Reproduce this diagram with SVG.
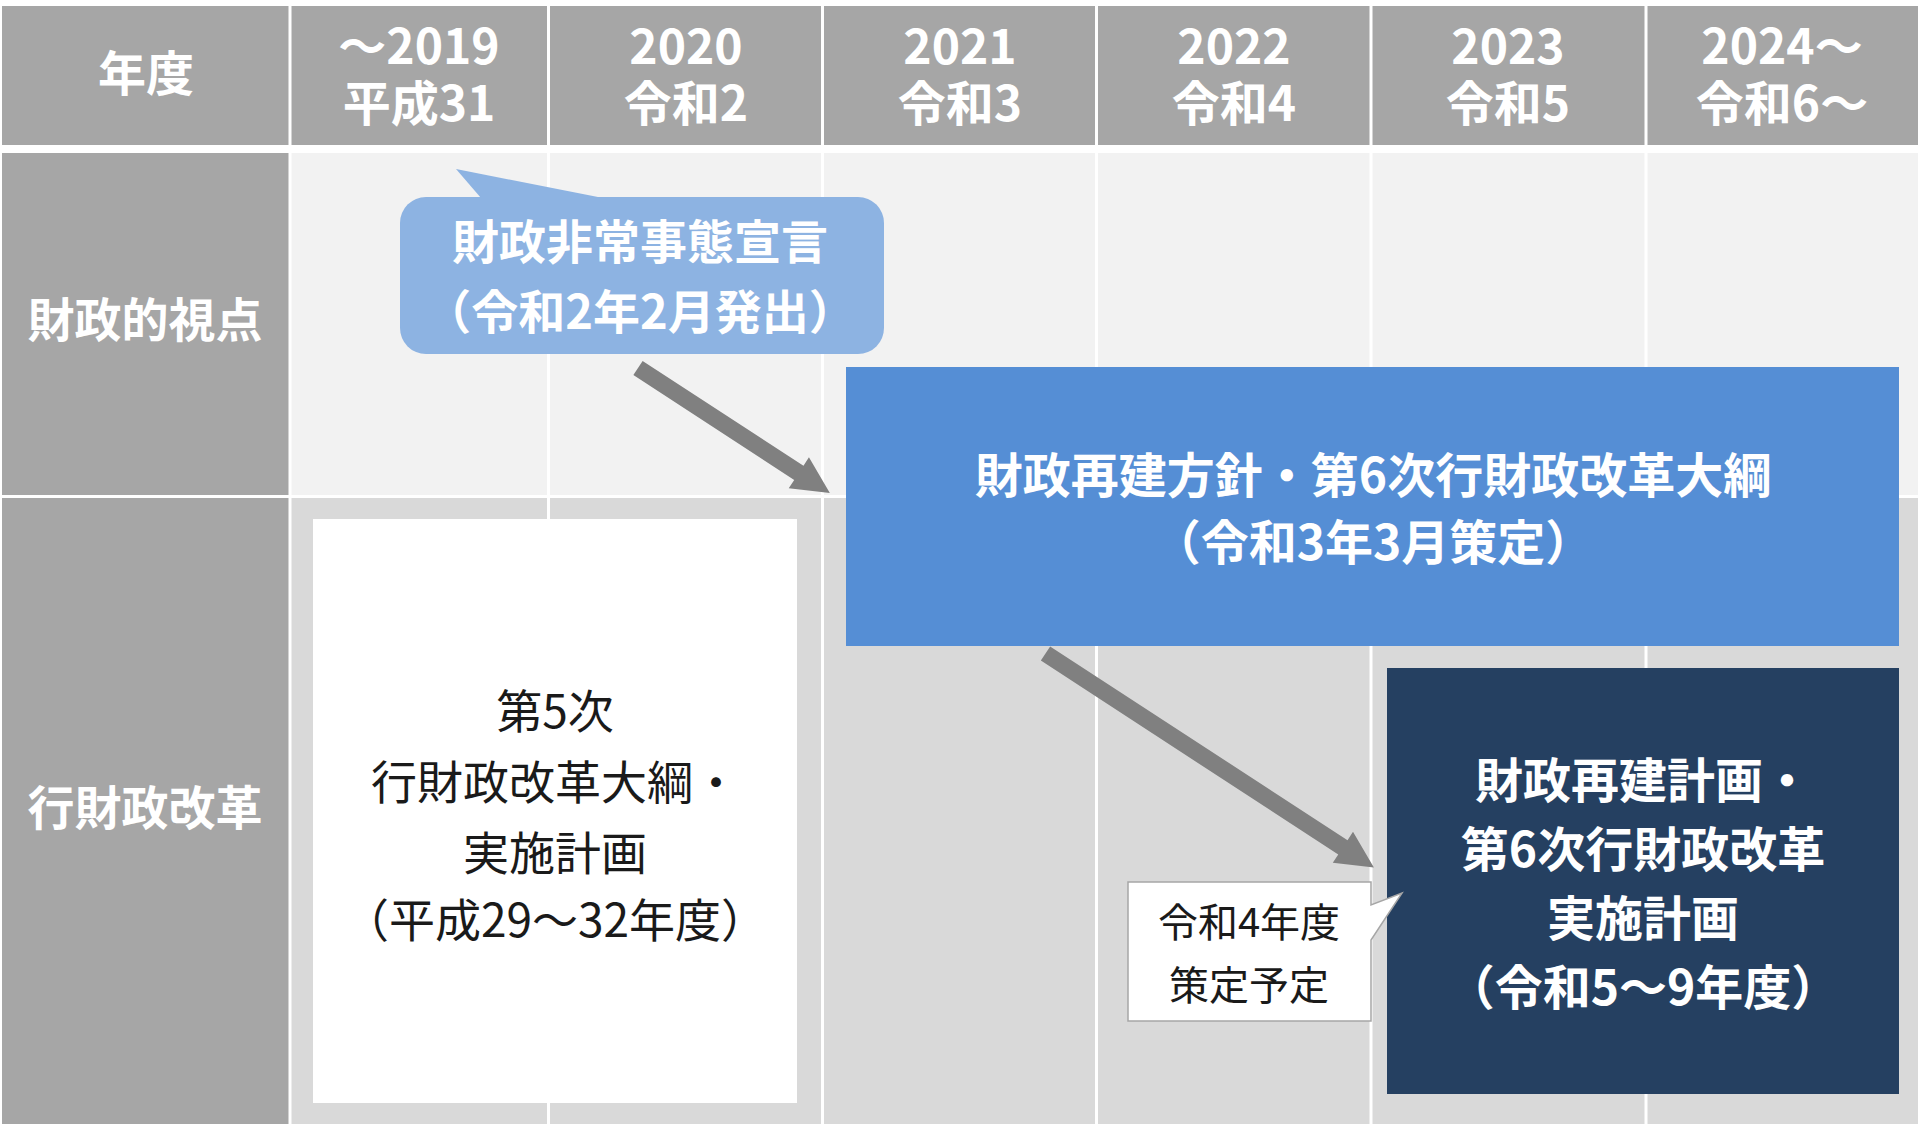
<svg xmlns="http://www.w3.org/2000/svg" width="1920" height="1124" viewBox="0 0 1920 1124">
<style>
text{font-family:"Noto Sans CJK JP","Noto Sans",sans-serif;text-anchor:middle}
.hd{fill:#ffffff;font-size:48px;font-weight:700}
.lb{fill:#ffffff;font-size:47px;font-weight:700}
.wt{fill:#ffffff;font-weight:700}
.bk{fill:#1a1a1a;font-weight:400}
.vl{stroke:#ffffff;stroke-width:3}
.arr{fill:#808080}
</style>
<rect width="1920" height="1124" fill="#ffffff"/>
<g id="grid">
<rect x="2" y="6" width="1916" height="139" fill="#a6a6a6"/>
<rect x="2" y="153" width="287" height="342" fill="#a6a6a6"/>
<rect x="291" y="153" width="1627" height="342" fill="#f2f2f2"/>
<rect x="2" y="498" width="287" height="626" fill="#a6a6a6"/>
<rect x="291" y="498" width="1627" height="626" fill="#d9d9d9"/>
<g class="vl">
<line x1="290" y1="6" x2="290" y2="1124"/>
<line x1="548.5" y1="6" x2="548.5" y2="1124"/>
<line x1="822.5" y1="6" x2="822.5" y2="1124"/>
<line x1="1096.5" y1="6" x2="1096.5" y2="1124"/>
<line x1="1371" y1="6" x2="1371" y2="1124"/>
<line x1="1646" y1="6" x2="1646" y2="1124"/>
</g>
</g>
<g id="header">
<text class="hd" x="146" y="91">年度</text>
<text class="hd" x="419" y="64">〜2019</text>
<text class="hd" x="419" y="121">平成31</text>
<text class="hd" x="686" y="64">2020</text>
<text class="hd" x="686" y="121">令和2</text>
<text class="hd" x="960" y="64">2021</text>
<text class="hd" x="960" y="121">令和3</text>
<text class="hd" x="1234" y="64">2022</text>
<text class="hd" x="1234" y="121">令和4</text>
<text class="hd" x="1508" y="64">2023</text>
<text class="hd" x="1508" y="121">令和5</text>
<text class="hd" x="1782" y="64">2024〜</text>
<text class="hd" x="1782" y="121">令和6〜</text>
</g>
<g id="row-labels">
<text class="lb" x="145" y="337">財政的視点</text>
<text class="lb" x="145" y="825">行財政改革</text>
</g>
<g id="connectors">
<polygon class="arr" transform="translate(638,368) rotate(33.1)" points="0,-8.5 192,-8.5 192,-18.5 229,0 192,18.5 192,8.5 0,8.5"/>
<polygon class="arr" transform="translate(1045.5,653.5) rotate(33.1)" points="0,-8.5 355,-8.5 355,-18.5 392,0 355,18.5 355,8.5 0,8.5"/>
</g>
<g id="emergency">
<rect x="400" y="197" width="484" height="157" rx="26" ry="26" fill="#8db3e2"/>
<polygon points="481,198 456,169 603,198" fill="#8db3e2"/>
<text class="wt" x="640" y="259" font-size="47">財政非常事態宣言</text>
<text class="wt" x="640" y="329" font-size="47">（令和2年2月発出）</text>
</g>
<g id="policy">
<rect x="846" y="367" width="1053" height="279" fill="#558ed5"/>
<text class="wt" x="1373" y="493" font-size="48">財政再建方針・第6次行財政改革大綱</text>
<text class="wt" x="1373" y="560" font-size="48">（令和3年3月策定）</text>
</g>
<g id="fifth">
<rect x="313" y="519" width="484" height="584" fill="#ffffff"/>
<text class="bk" x="555" y="728" font-size="46">第5次</text>
<text class="bk" x="555" y="799" font-size="46">行財政改革大綱・</text>
<text class="bk" x="555" y="870" font-size="46">実施計画</text>
<text class="bk" x="555" y="937" font-size="46">（平成29〜32年度）</text>
</g>
<g id="plan">
<rect x="1387" y="668" width="512" height="426" fill="#254061"/>
<text class="wt" x="1643" y="798" font-size="48">財政再建計画・</text>
<text class="wt" x="1643" y="867" font-size="48">第6次行財政改革</text>
<text class="wt" x="1643" y="936" font-size="48">実施計画</text>
<text class="wt" x="1643" y="1005" font-size="48">（令和5〜9年度）</text>
</g>
<g id="schedule">
<path d="M1128,882 H1371 V905 L1402,893 L1371,940 V1021 H1128 Z" fill="#ffffff" stroke="#a6a6a6" stroke-width="1.5"/>
<text class="bk" x="1249" y="937" font-size="40">令和4年度</text>
<text class="bk" x="1249" y="1000" font-size="40">策定予定</text>
</g>
</svg>
